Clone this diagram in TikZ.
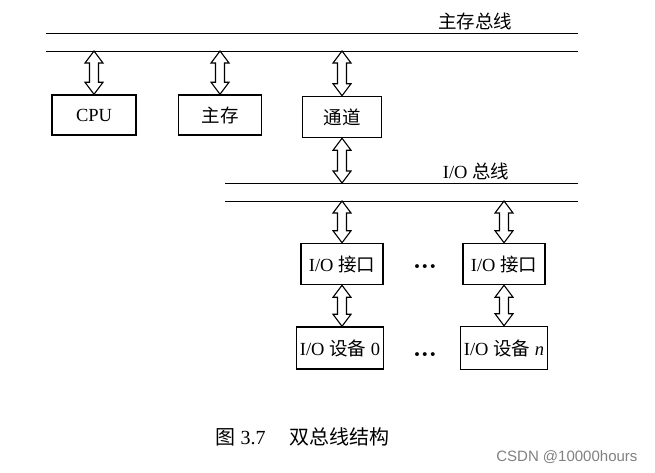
\documentclass[tikz,border=0pt]{standalone}
\usepackage{amsmath}
\usepackage{amssymb}
\usepackage{fontspec}
\setmainfont{Liberation Serif}
\newfontfamily\cjk{Noto Sans CJK SC}
\newfontfamily\wmfont{Liberation Sans}
\usepackage{tikz}
\usetikzlibrary{calc}
\newcommand{\busarrow}[2]{%
  \draw[fatarr] let \p1=(#1), \p2=(#2) in
    (\x1,\y1) -- (\x1+9pt,\y1-12pt) -- (\x1+4.5pt,\y1-12pt) -- (\x1+4.5pt,\y2+12pt)
    -- (\x1+9pt,\y2+12pt) -- (\x1,\y2) -- (\x1-9pt,\y2+12pt) -- (\x1-4.5pt,\y2+12pt)
    -- (\x1-4.5pt,\y1-12pt) -- (\x1-9pt,\y1-12pt) -- cycle;}
\tikzset{
  unit/.style={draw, line width=1.5pt, minimum height=40pt, inner sep=2pt,
    font=\fontsize{18.5}{20}\selectfont},
  bus/.style={line width=0.9pt},
  fatarr/.style={line width=1.1pt, fill=white},
  buslabel/.style={font=\fontsize{18.5}{20}\selectfont},
  dotsnode/.style={font=\bfseries\fontsize{24}{26}\selectfont}
}

\begin{document}
\begin{tikzpicture}[x=1pt,y=-1pt]
        \useasboundingbox (0,0) rectangle (655,472);

        % main bus
        \coordinate (mb-west) at (46,33);
        \coordinate (mb-east) at (578,33);
        \coordinate (mbl-west) at (46,51);
        \coordinate (mbl-east) at (578,51);
        \draw[bus] (mb-west) -- (mb-east);
        \draw[bus] (mbl-west) -- (mbl-east);
        \node[buslabel] (mb-label) at (475,21) {\cjk 主存总线};

        \node[unit, minimum width=84pt] (cpu) at (94,115) {CPU};
        \node[unit, minimum width=83pt] (mem) at (220,115) {\cjk 主存};
        \node[unit, minimum width=79pt, minimum height=41pt] (chan) at (342,117) {\cjk 通道};

        % I/O bus
        \coordinate (iob-west) at (225,183);
        \coordinate (iob-east) at (578,183);
        \coordinate (iobl-west) at (225,201);
        \coordinate (iobl-east) at (578,201);
        \draw[bus] (iob-west) -- (iob-east);
        \draw[bus] (iobl-west) -- (iobl-east);
        \node[buslabel] (iob-label) at (476,171) {I/O {\cjk 总线}};

        \node[unit, minimum width=82pt, minimum height=41pt] (if0) at (342,264) {I/O {\cjk 接口}};
        \node[unit, minimum width=82pt, minimum height=41pt] (ifn) at (504,264) {I/O {\cjk 接口}};
        \node[unit, minimum width=87pt, minimum height=42pt] (dev0) at (340,348) {I/O {\cjk 设备} 0};
        \node[unit, minimum width=87pt, minimum height=43pt] (devn) at (504,348) {I/O {\cjk 设备} \textit{n}};
        \node[dotsnode] (dots-if) at (425,270) {\textperiodcentered\textperiodcentered\textperiodcentered};
        \node[dotsnode] (dots-dev) at (425,358) {\textperiodcentered\textperiodcentered\textperiodcentered};

        %arrows
        \coordinate (cpu-tap) at (cpu.north |- mbl-west);
        \coordinate (mem-tap) at (mem.north |- mbl-west);
        \coordinate (chan-tap) at (chan.north |- mbl-west);
        \coordinate (chan-iob) at (chan.south |- iob-west);
        \coordinate (if0-tap) at (if0.north |- iobl-west);
        \coordinate (ifn-tap) at (ifn.north |- iobl-west);
        \busarrow{cpu-tap}{cpu.north}
        \busarrow{mem-tap}{mem.north}
        \busarrow{chan-tap}{chan.north}
        \busarrow{chan.south}{chan-iob}
        \busarrow{if0-tap}{if0.north}
        \busarrow{ifn-tap}{ifn.north}
        \busarrow{if0.south}{if0.south |- dev0.north}
        \busarrow{ifn.south}{ifn.south |- devn.north}

        \node[font=\fontsize{20}{22}\selectfont, anchor=west] (caption) at (212,437)
                {{\cjk 图} 3.7\hspace{1.2em}{\cjk 双总线结构}};
        \node[font=\wmfont\fontsize{15}{17}\selectfont, text=gray, anchor=east] (mark) at (641,457)
                {CSDN @10000hours};
\end{tikzpicture}
\end{document}
